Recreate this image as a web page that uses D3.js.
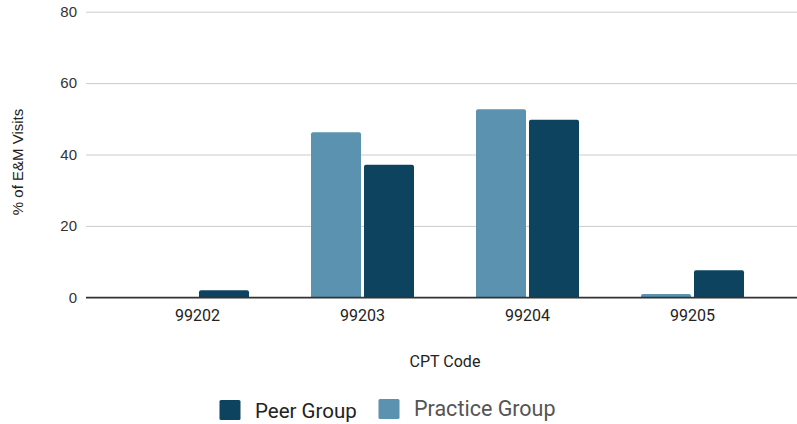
<!DOCTYPE html>
<html>
<head>
<meta charset="utf-8">
<script src="https://cdn.jsdelivr.net/npm/d3@7"></script>
<style>
  html, body { margin: 0; padding: 0; background: #fff; }
  svg { display: block; font-family: Roboto, "Noto Sans", sans-serif; }
</style>
</head>
<body>
<svg id="chart" width="797" height="424"></svg>
<script>
// CPT codes on the x axis
const categories = ["99202", "99203", "99204", "99205"];
// Share of E&M visits (%) per code
const practiceGroup = [0, 46.2, 52.7, 0.9];
const peerGroup = [2.0, 37.1, 49.7, 7.6];
const seriesNames = ["Practice Group", "Peer Group"];
const yTicks = [0, 20, 40, 60, 80];

const colors = { "Practice Group": "#5b92b0", "Peer Group": "#0e4360" };

const rows = categories.map((c, i) => ({
  code: c,
  values: [
    { key: "Practice Group", value: practiceGroup[i] },
    { key: "Peer Group", value: peerGroup[i] }
  ]
}));

const svg = d3.select("#chart");

const x0 = d3.scaleBand()
  .domain(categories)
  .range([115, 775])
  .paddingInner(0.3758)
  .paddingOuter(0.1879);

const x1 = d3.scaleBand()
  .domain(seriesNames)
  .range([0, x0.bandwidth()])
  .paddingInner(0.0566);

const y = d3.scaleLinear().domain([0, 80]).range([297.3, 11.7]);

// horizontal gridlines with labels
const yAxis = d3.axisLeft(y).tickValues(yTicks).tickSize(0).tickPadding(9);
const gy = svg.append("g").attr("transform", "translate(86,0)").call(yAxis);
gy.select(".domain").remove();
gy.selectAll(".tick text")
  .attr("fill", "#333")
  .style("font-size", "15px")
  .style("font-family", "'Liberation Sans', Arial, sans-serif");
gy.selectAll(".tick").append("line")
  .attr("x1", 0).attr("x2", 797 - 86)
  .attr("stroke", d => d === 0 ? "#333" : "#cccccc")
  .attr("stroke-width", d => d === 0 ? 1.3 : 1);

// bars with slightly rounded tops
function topRounded(x, yTop, w, h, r) {
  if (h <= 0) return "";
  r = Math.min(r, h, w / 2);
  const yb = yTop + h;
  return `M${x},${yb}V${yTop + r}Q${x},${yTop} ${x + r},${yTop}` +
         `H${x + w - r}Q${x + w},${yTop} ${x + w},${yTop + r}V${yb}Z`;
}

const groups = svg.append("g").selectAll("g")
  .data(rows).join("g")
  .attr("transform", d => `translate(${x0(d.code)},0)`);

groups.selectAll("path")
  .data(d => d.values)
  .join("path")
  .attr("fill", d => colors[d.key])
  .attr("d", d => topRounded(x1(d.key), y(d.value), x1.bandwidth(), y(0) - y(d.value), 2));

// redraw baseline above bars
svg.append("line")
  .attr("x1", 86).attr("x2", 797)
  .attr("y1", y(0)).attr("y2", y(0))
  .attr("stroke", "#333").attr("stroke-width", 1.3);

// category labels
const xAxis = d3.axisBottom(x0).tickSize(0).tickPadding(12);
const gx = svg.append("g").attr("transform", `translate(0,${y(0)})`).call(xAxis);
gx.select(".domain").remove();
gx.selectAll(".tick text")
  .attr("fill", "#222")
  .style("font-size", "16px")
  .style("font-family", "Roboto, sans-serif");

// axis titles
svg.append("text")
  .attr("x", 445).attr("y", 366.5)
  .attr("text-anchor", "middle")
  .attr("fill", "#222")
  .style("font-size", "16px")
  .text("CPT Code");

svg.append("text")
  .attr("transform", "translate(23,162) rotate(-90)")
  .attr("text-anchor", "middle")
  .attr("fill", "#222")
  .style("font-size", "15px")
  .style("font-family", "'Liberation Sans', Arial, sans-serif")
  .text("% of E&M Visits");

// legend
const legendItems = [
  { key: "Peer Group", sx: 219.5, sy: 400, tx: 255, ty: 418, size: 20.5, color: "#222" },
  { key: "Practice Group", sx: 378.5, sy: 399, tx: 414, ty: 415.5, size: 21.5, color: "#555" }
];
const lg = svg.append("g").selectAll("g").data(legendItems).join("g");
lg.append("rect")
  .attr("x", d => d.sx).attr("y", d => d.sy)
  .attr("width", 21).attr("height", 20).attr("rx", 1.5)
  .attr("fill", d => colors[d.key]);
lg.append("text")
  .attr("x", d => d.tx).attr("y", d => d.ty)
  .attr("fill", d => d.color)
  .style("font-size", d => d.size + "px")
  .text(d => d.key);
</script>
</body>
</html>
